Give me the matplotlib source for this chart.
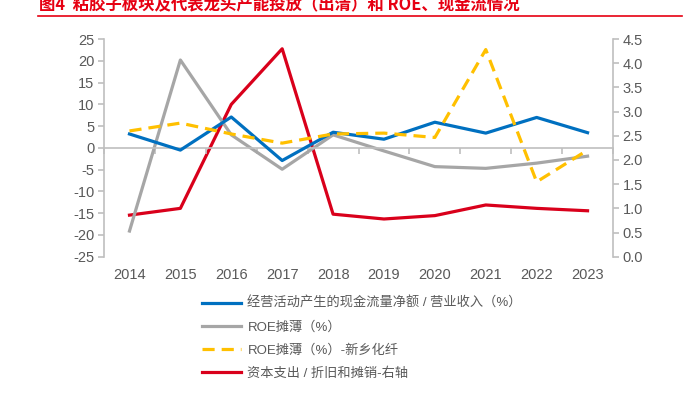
import matplotlib
matplotlib.use("Agg")
import matplotlib.pyplot as plt
from matplotlib.lines import Line2D
from matplotlib.ticker import FormatStrFormatter

plt.rcParams['font.family'] = ['Liberation Sans', 'Noto Sans CJK SC', 'DejaVu Sans']
plt.rcParams['axes.unicode_minus'] = False

years = ['2014', '2015', '2016', '2017', '2018', '2019', '2020', '2021', '2022', '2023']
cashflow = [3.2, -0.5, 7.1, -2.9, 3.6, 2.0, 5.9, 3.4, 7.0, 3.5]
roe = [-19.1, 20.2, 3.0, -4.9, 3.0, -0.7, -4.3, -4.7, -3.5, -1.9]
roe_xx = [3.9, 5.7, 3.2, 1.1, 3.2, 3.4, 2.4, 22.6, -7.8, -0.5]
capex = [0.86, 1.0, 3.15, 4.30, 0.88, 0.78, 0.85, 1.07, 1.0, 0.95]

labels = ['经营活动产生的现金流量净额 / 营业收入（%）', 'ROE摊薄（%）',
          'ROE摊薄（%）-新乡化纤', '资本支出 / 折旧和摊销-右轴']

BLUE = '#0070C0'
GRAY = '#A6A6A6'
YELLOW = '#FFC000'
RED = '#D9001B'
AXIS = '#BFBFBF'
TXT = '#595959'

fig = plt.figure(figsize=(6.89, 3.99), dpi=100)
ax = fig.add_axes([0.151, 0.3566, 0.7387, 0.5454])
ax2 = ax.twinx()

x = list(range(len(years)))
l1, = ax.plot(x, cashflow, color=BLUE, lw=2.3, zorder=3)
l2, = ax.plot(x, roe, color=GRAY, lw=2.3, zorder=2)
l3, = ax.plot(x, roe_xx, color=YELLOW, lw=2.3, dashes=(3.8, 2.2), zorder=4)
l4, = ax2.plot(x, capex, color=RED, lw=2.3)

ax.set_xlim(-0.5, len(years) - 0.5)
ax.set_ylim(-25, 25)
ax.set_yticks(range(-25, 30, 5))
ax2.set_ylim(0, 4.5)
ax2.set_yticks([i * 0.5 for i in range(10)])
ax2.yaxis.set_major_formatter(FormatStrFormatter('%.1f'))

for a in (ax, ax2):
    a.spines['top'].set_visible(False)
ax2.set_zorder(2)
ax.set_zorder(3)
ax.patch.set_visible(False)

ax2.spines['bottom'].set_visible(False)
ax2.spines['left'].set_visible(False)
ax2.spines['right'].set_color(AXIS)
ax2.spines['right'].set_linewidth(1.2)
ax.spines['right'].set_visible(False)
ax.spines['left'].set_color(AXIS)
ax.spines['left'].set_linewidth(1.2)

# zero line with category ticks
ax.spines['bottom'].set_position(('data', 0))
ax.spines['bottom'].set_color(AXIS)
ax.spines['bottom'].set_linewidth(1.2)
ax.set_xticks([i - 0.5 for i in range(len(years) + 1)])
ax.tick_params(axis='x', direction='out', length=4, color=AXIS, width=1.2, labelbottom=False)

sec = ax.secondary_xaxis(0)
sec.set_xticks(x)
sec.set_xticklabels(years)
sec.spines['bottom'].set_visible(False)
sec.tick_params(length=0, pad=8, labelsize=10.5, labelcolor=TXT)

ax.tick_params(axis='y', direction='out', length=4, color=AXIS, width=1.2,
               labelsize=10.5, labelcolor=TXT, pad=3)
ax2.tick_params(axis='y', direction='out', length=4, color=AXIS, width=1.2,
                labelsize=10.5, labelcolor=TXT, pad=3)

fig.legend([l1, l2, l3, l4], labels, loc='upper left',
           bbox_to_anchor=(0.293, 1 - 297 / 399), frameon=False,
           fontsize=9.5, labelcolor=TXT, handlelength=3.0, handletextpad=0.45,
           labelspacing=0.81, borderpad=0, borderaxespad=0)

fig.text(0.057, 1 - 9 / 399, '图4  粘胶子板块及代表龙头产能投放（出清）和 ROE、现金流情况',
         color='#E60012', fontsize=11.8, fontweight='bold', va='baseline', ha='left',
         family=['Noto Sans CJK SC', 'DejaVu Sans'])
fig.add_artist(Line2D([0.055, 0.99], [1 - 16 / 399, 1 - 16 / 399], color='#E60012',
                      lw=1.2, transform=fig.transFigure))

fig.savefig('out.png', dpi=100)
